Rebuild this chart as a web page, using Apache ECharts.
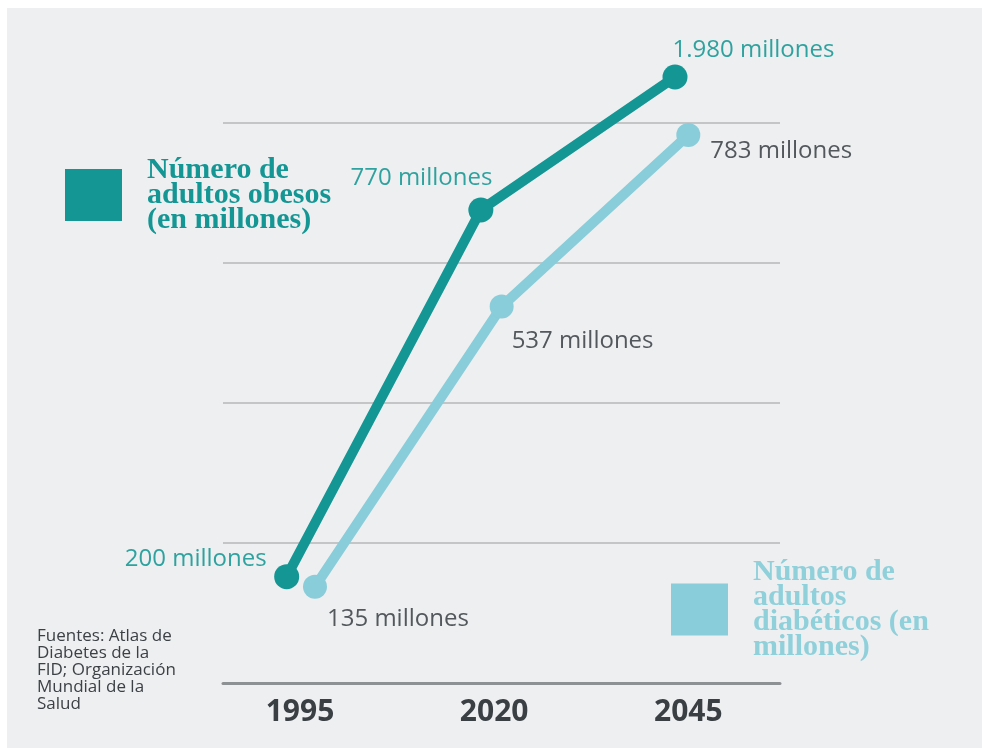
<!DOCTYPE html>
<html>
<head>
<meta charset="utf-8">
<script src="https://cdn.jsdelivr.net/npm/echarts@6/dist/echarts.min.js"></script>
<style>
  html, body { margin: 0; padding: 0; background: #ffffff; }
  #bg { position: absolute; left: 7px; top: 8px; width: 975px; height: 740px; background: #eeeff1; }
  #chart { position: absolute; left: 0; top: 0; width: 982px; height: 748px; }
</style>
</head>
<body>
<div id="bg"></div>
<div id="chart"></div>
<script>
// ---- data ----
const years = [1995, 2020, 2045];
const obesosValues = [200, 770, 1980];
const diabeticosValues = [135, 537, 783];
const obesosName = 'Número de adultos obesos (en millones)';
const diabeticosName = 'Número de adultos diabéticos (en millones)';
const obesosLegendLines = ['Número de', 'adultos obesos', '(en millones)'];
const diabeticosLegendLines = ['Número de', 'adultos', 'diabéticos (en', 'millones)'];
const sourceLines = ['Fuentes: Atlas de', 'Diabetes de la', 'FID; Organización', 'Mundial de la', 'Salud'];
const unitText = 'millones';

// ---- styles / label placement (not data) ----
const obesosLabelStyle = [
  { position: 'left', offset: [-7.5, -18] },
  { position: 'left', offset: [24, -32] },
  { position: 'right', offset: [-15, -27] }
];
const diabeticosLabelStyle = [
  { position: 'right', offset: [0, 32] },
  { position: 'right', offset: [-2, 35] },
  { position: 'right', offset: [10, 16] }
];

const TEAL = '#149694';
const LIGHT = '#88cdd9';
const TEAL_TEXT = '#2fa29f';
const GRAY_TEXT = '#53585c';

function fmt(v) {
  return String(v).replace(/\B(?=(\d{3})+(?!\d))/g, '.') + ' ' + unitText;
}

function buildData(vals, styles, color) {
  return vals.map((v, i) => ({
    value: [years[i], v],
    label: {
      show: true,
      position: styles[i].position,
      distance: 0,
      offset: styles[i].offset,
      formatter: fmt(v),
      color: color,
      fontFamily: '"Open Sans", sans-serif',
      fontSize: 24
    }
  }));
}

const chart = echarts.init(document.getElementById('chart'), null, { renderer: 'canvas' });

const option = {
  backgroundColor: 'transparent',
  animation: false,
  grid: [
    { left: 223, right: 202, top: 123, height: 560 },
    { left: 223, right: 202, top: 77, height: 606 }
  ],
  legend: [
    {
      data: [obesosName],
      left: 65, top: 155, padding: 0,
      icon: 'rect', itemWidth: 57, itemHeight: 52,
      selectedMode: false,
      formatter: () => obesosLegendLines.join('\n'),
      textStyle: {
        fontFamily: '"Liberation Serif", serif', fontWeight: 'bold',
        fontSize: 30, lineHeight: 25, color: TEAL, padding: [0, 0, 0, 20]
      },
      itemStyle: { color: TEAL }
    },
    {
      data: [diabeticosName],
      left: 671, top: 557, padding: 0,
      icon: 'rect', itemWidth: 57, itemHeight: 52,
      selectedMode: false,
      formatter: () => diabeticosLegendLines.join('\n'),
      textStyle: {
        fontFamily: '"Liberation Serif", serif', fontWeight: 'bold',
        fontSize: 30, lineHeight: 25, color: '#8fd0db', padding: [0, 0, 0, 20]
      },
      itemStyle: { color: LIGHT }
    }
  ],
  xAxis: [
    {
      type: 'value', gridIndex: 0, min: 1985.085, max: 2056.81,
      axisLine: { show: true, lineStyle: { color: '#8e9194', width: 3 } },
      axisTick: { show: false },
      splitLine: { show: false },
      axisLabel: {
        customValues: years,
        formatter: v => String(v),
        fontFamily: '"Open Sans", sans-serif', fontWeight: 'bold',
        fontSize: 30, color: '#3a3f44', margin: 14
      }
    },
    { type: 'value', gridIndex: 0, min: 1982.68, max: 2057.28, show: false },
    { type: 'value', gridIndex: 1, min: 1986.80, max: 2058.52, show: false }
  ],
  yAxis: [
    {
      type: 'value', gridIndex: 0, min: 0, max: 4, interval: 1,
      axisLine: { show: false }, axisTick: { show: false }, axisLabel: { show: false },
      splitLine: { show: true, lineStyle: { color: '#c3c5c7', width: 2 } }
    },
    { type: 'value', gridIndex: 0, min: -3.2, max: 800.3, show: false, splitLine: { show: false } },
    {
      type: 'value', gridIndex: 1, min: 34.8, max: 1980, show: false, splitLine: { show: false },
      breaks: [{ start: 850, end: 1950, gap: 96.7 }],
      breakArea: { show: false }
    }
  ],
  series: [
    {
      name: diabeticosName, type: 'line', xAxisIndex: 1, yAxisIndex: 1,
      data: buildData(diabeticosValues, diabeticosLabelStyle, GRAY_TEXT),
      symbol: 'circle', symbolSize: 24, clip: false,
      lineStyle: { color: LIGHT, width: 10 },
      itemStyle: { color: LIGHT },
      z: 3
    },
    {
      name: obesosName, type: 'line', xAxisIndex: 2, yAxisIndex: 2,
      data: buildData(obesosValues, obesosLabelStyle, TEAL_TEXT),
      symbol: 'circle', symbolSize: 25, clip: false,
      lineStyle: { color: TEAL, width: 10 },
      itemStyle: { color: TEAL },
      z: 4
    }
  ],
  graphic: [
    {
      type: 'text', left: 37, top: 628,
      style: {
        text: sourceLines.join('\n'),
        fontFamily: '"Open Sans", sans-serif', fontSize: 17, lineHeight: 17,
        fill: '#3d4145'
      }
    }
  ]
};

chart.setOption(option);
</script>
</body>
</html>
